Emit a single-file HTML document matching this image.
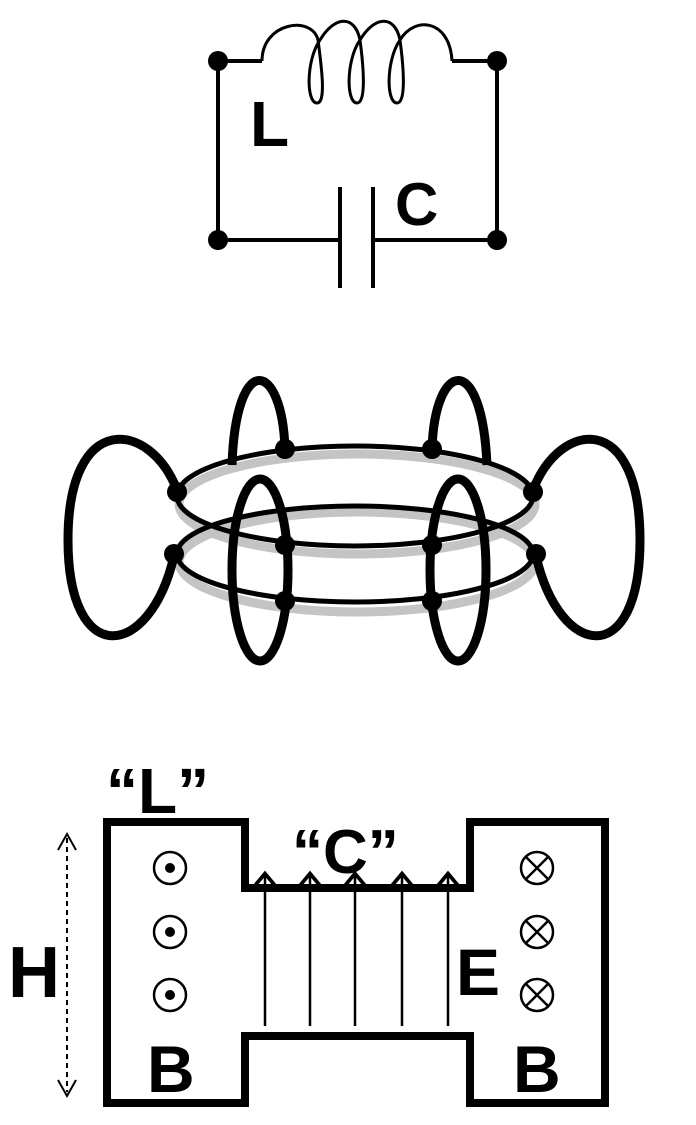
<!DOCTYPE html>
<html><head><meta charset="utf-8"><style>
html,body{margin:0;padding:0;background:#fff}
svg{display:block}
text{font-family:"Liberation Sans",sans-serif;font-weight:bold;fill:#000}
</style></head><body>
<svg width="696" height="1125" viewBox="0 0 696 1125">
<defs><marker id="ah" markerWidth="10" markerHeight="10" refX="5" refY="5" orient="auto"><path d="M0,0 L6,5 L0,10" fill="none" stroke="#000" stroke-width="1.5"/></marker></defs>
<g fill="none" stroke="#000" stroke-width="4">
  <path d="M218,61 L262,61 M218,61 L218,240 L338,240 M372,240 L497,240 L497,61 L452,61"/>
  <path d="M262,61 C262,22 312,15 318,40 C322,70 326,103 317,103 C306,103 306,60 320,40 C335,15 355,15 360,40 C364,70 366,103 357,103 C346,103 346,60 360,40 C375,15 395,15 400,40 C404,70 406,103 397,103 C386,103 386,60 400,40 C415,15 450,20 452,61" stroke-width="3"/>
  <line x1="340" y1="187" x2="340" y2="288"/>
  <line x1="373" y1="187" x2="373" y2="288"/>
  <g fill="#000" stroke="none">
    <circle cx="218" cy="61" r="10"/><circle cx="497" cy="61" r="10"/><circle cx="218" cy="240" r="10"/><circle cx="497" cy="240" r="10"/>
  </g>
</g>
<text x="250" y="146" font-size="64">L</text>
<text x="395" y="225" font-size="60">C</text>

<g fill="none" stroke="#000">
  <ellipse cx="357" cy="504" rx="178" ry="50" stroke="#c4c4c4" stroke-width="9"/>
  <ellipse cx="357" cy="562" rx="178" ry="50" stroke="#c4c4c4" stroke-width="9"/>
  <path d="M285,449 C282,360 236,350 232,465" stroke-width="9"/>
  <path d="M432,449 C435,360 482,350 487,465" stroke-width="9"/>
  <ellipse cx="355" cy="496" rx="178" ry="50" stroke-width="5"/>
  <ellipse cx="355" cy="554" rx="178" ry="48" stroke-width="5"/>
  <path d="M177,490 C150,420 68,410 68,540 C68,670 150,660 174,556" stroke-width="9"/>
  <path d="M533,490 C560,420 640,410 640,540 C640,670 560,660 536,556" stroke-width="9"/>
  <ellipse cx="260" cy="570" rx="28" ry="91" stroke-width="9"/>
  <ellipse cx="458" cy="570" rx="28" ry="91" stroke-width="9"/>
  <g fill="#000" stroke="none">
    <circle cx="285" cy="449" r="10"/><circle cx="432" cy="449" r="10"/>
    <circle cx="177" cy="492" r="10"/><circle cx="533" cy="492" r="10"/>
    <circle cx="285" cy="545" r="10"/><circle cx="432" cy="545" r="10"/>
    <circle cx="174" cy="554" r="10"/><circle cx="536" cy="554" r="10"/>
    <circle cx="285" cy="601" r="10"/><circle cx="432" cy="601" r="10"/>
  </g>
</g>

<g>
  <path d="M107,822 L245,822 L245,888 L470,888 L470,822 L605,822 L605,1103 L470,1103 L470,1036 L245,1036 L245,1103 L107,1103 Z" fill="none" stroke="#000" stroke-width="8"/>
  <g fill="none" stroke="#000" stroke-width="2.5">
    <circle cx="170" cy="868" r="16"/><circle cx="170" cy="932" r="16"/><circle cx="170" cy="995" r="16"/>
  </g>
  <g fill="#000">
    <circle cx="170" cy="868" r="5"/><circle cx="170" cy="932" r="5"/><circle cx="170" cy="995" r="5"/>
  </g>
  <g fill="none" stroke="#000" stroke-width="2.5">
    <circle cx="537" cy="868" r="16"/><circle cx="537" cy="932" r="16"/><circle cx="537" cy="995" r="16"/>
    <path d="M526,857 L548,879 M548,857 L526,879 M526,921 L548,943 M548,921 L526,943 M526,984 L548,1006 M548,984 L526,1006"/>
  </g>
  <g stroke="#000" stroke-width="2.5" marker-end="url(#ah)">
    <line x1="265" y1="1026" x2="265" y2="876"/><line x1="310" y1="1026" x2="310" y2="876"/>
    <line x1="355" y1="1026" x2="355" y2="876"/><line x1="402" y1="1026" x2="402" y2="876"/>
    <line x1="448" y1="1026" x2="448" y2="876"/>
  </g>
  <g stroke="#000" stroke-width="2">
    <line x1="67" y1="838" x2="67" y2="1092" stroke-dasharray="5,4"/>
    <path d="M58,850 L67,834 L76,850 M58,1080 L67,1096 L76,1080" fill="none"/>
  </g>
  <text x="8" y="997" font-size="72">H</text>
  <text x="147" y="1092" font-size="66">B</text>
  <text x="513" y="1092" font-size="66">B</text>
  <text x="456" y="995" font-size="66">E</text>
  <text x="106" y="813" font-size="64">“L”</text>
  <text x="292" y="873" font-size="62">“C”</text>
</g>
</svg>
</body></html>
